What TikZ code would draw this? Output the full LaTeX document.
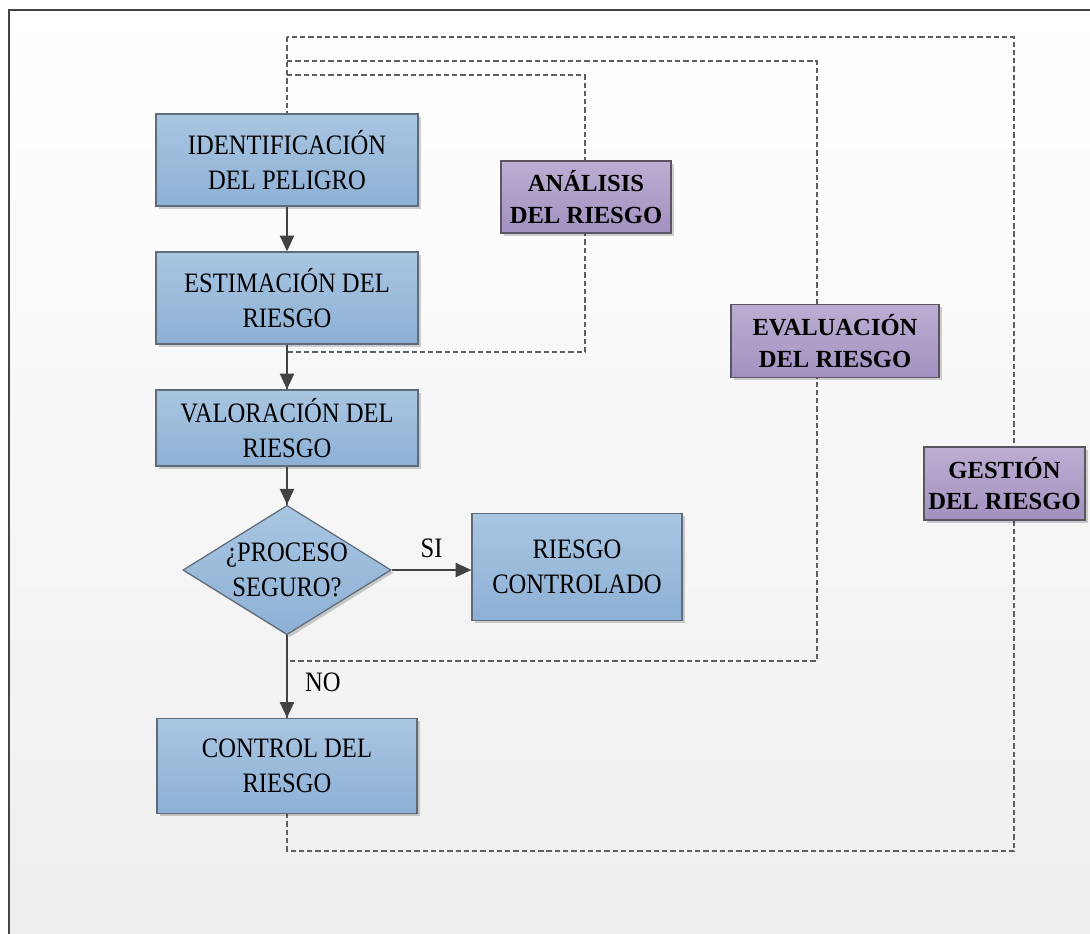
\documentclass[tikz,border=0pt]{standalone}
\usepackage{fontspec}
\setmainfont[FakeStretch=0.875]{Liberation Serif}
\newfontfamily\labfont{Liberation Serif}
\usetikzlibrary{shapes.geometric,arrows.meta,shadows}
\definecolor{boxtop}{HTML}{A9C6E2}
\definecolor{boxbot}{HTML}{8DB0D5}
\definecolor{boxline}{HTML}{5F6B78}
\definecolor{purtop}{HTML}{BCAED2}
\definecolor{purbot}{HTML}{A291C0}
\definecolor{purline}{HTML}{5A5560}
\definecolor{arrowc}{HTML}{424242}
\definecolor{dashc}{HTML}{5E5E5E}
\definecolor{bgbot}{HTML}{EEEEEE}
\definecolor{framec}{HTML}{454545}
\tikzset{
  every node/.style={font=\fontsize{16}{19.8}\selectfont, align=center},
  stepbox/.style={rectangle, draw=boxline, line width=0.7pt, top color=boxtop, bottom color=boxbot,
    inner sep=0pt, drop shadow={shadow xshift=1.5pt, shadow yshift=-1.5pt, opacity=0.18, fill=black}},
  decbox/.style={diamond, draw=boxline, line width=0.7pt, top color=boxtop, bottom color=boxbot,
    inner sep=0pt, aspect=1.61, drop shadow={shadow xshift=1.5pt, shadow yshift=-1.5pt, opacity=0.18, fill=black}},
  labbox/.style={rectangle, draw=purline, line width=0.7pt, top color=purtop, bottom color=purbot,
    inner sep=0pt, font=\labfont\fontsize{14}{18}\selectfont\bfseries,
    drop shadow={shadow xshift=1.5pt, shadow yshift=-1.5pt, opacity=0.18, fill=black}},
  flow/.style={draw=arrowc, line width=1.2pt, -{Triangle[width=8pt,length=9pt]}},
  zone/.style={draw=dashc, line width=0.6pt, dash pattern=on 3pt off 1.7pt},
}
\begin{document}
\begin{tikzpicture}[x=0.02cm, y=-0.02cm]
\useasboundingbox (0,0) rectangle (1090,934);
\clip (0,0) rectangle (1090,934);
\fill[white] (0,0) rectangle (1090,934);
\shade[top color=white, bottom color=bgbot] (9,10) rectangle (1100,945);
\draw[framec, line width=1.4pt] (1100,10) -- (9,10) -- (9,945);

% zones (shared left side drawn once)
\draw[zone] (287,37) rectangle (1014,851);
\draw[zone] (287,61) -- (817,61) -- (817,661) -- (287,661);
\draw[zone] (287,75) -- (585,75) -- (585,352) -- (287,352);

% flow nodes
\node[stepbox, minimum width=5.24cm, minimum height=1.84cm] (ident) at (287,160) {IDENTIFICACIÓN\\DEL PELIGRO};
\node[stepbox, minimum width=5.24cm, minimum height=1.84cm] (estim) at (287,298) {ESTIMACIÓN DEL\\RIESGO};
\node[stepbox, minimum width=5.24cm, minimum height=1.52cm] (valor) at (287,428) {VALORACIÓN DEL\\RIESGO};
\node[decbox, minimum width=4.16cm, minimum height=2.58cm] (dec) at (287,570) {¿PROCESO\\SEGURO?};
\node[stepbox, minimum width=4.2cm, minimum height=2.14cm] (rc) at (577,567) {RIESGO\\CONTROLADO};
\node[stepbox, minimum width=5.2cm, minimum height=1.9cm] (ctrl) at (287,766) {CONTROL DEL\\RIESGO};

% zone labels
\node[labbox, minimum width=3.4cm, minimum height=1.44cm] (lanal) at (586,197) {ANÁLISIS\\DEL RIESGO};
\node[labbox, minimum width=4.16cm, minimum height=1.46cm] (leval) at (835,341) {EVALUACIÓN\\DEL RIESGO};
\node[labbox, minimum width=3.22cm, minimum height=1.46cm] (lgest) at (1004.5,483.5) {GESTIÓN\\DEL RIESGO};

% connectors
\draw[flow] (ident) -- (estim);
\draw[flow] (estim) -- (valor);
\draw[flow] (valor) -- (dec);
\draw[flow] (dec.east) -- node[above=3pt] (si) {SI} (dec.east -| rc.west);
\draw[flow] (dec.south) -- (ctrl.north);
\node (no) at (323,682) {NO};
\end{tikzpicture}
\end{document}
